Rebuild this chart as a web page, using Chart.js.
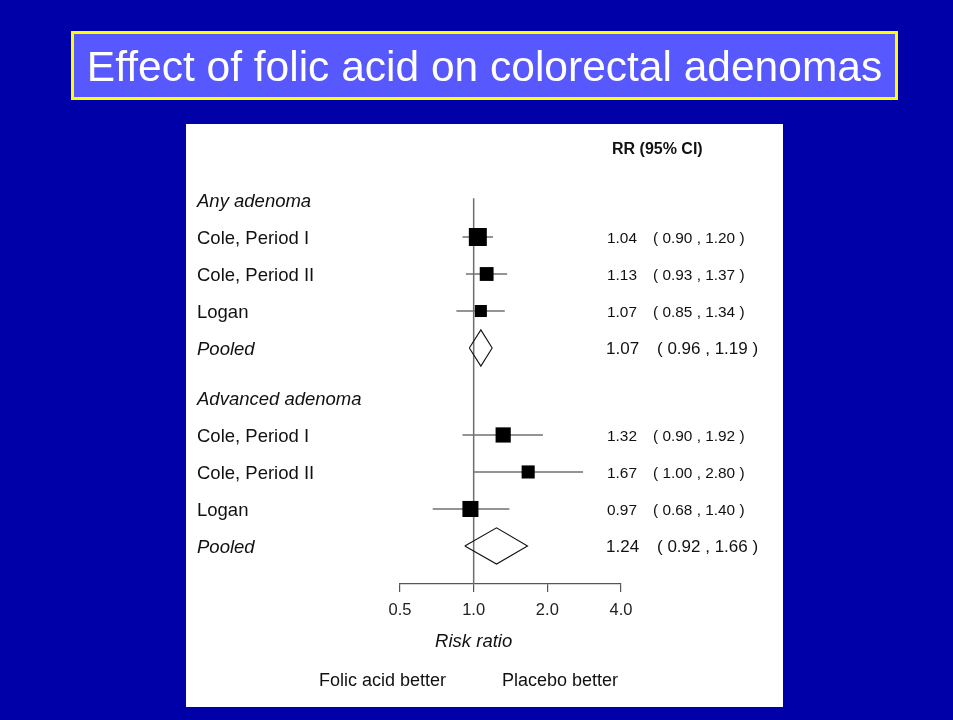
<!DOCTYPE html>
<html>
<head>
<meta charset="utf-8">
<script src="https://cdn.jsdelivr.net/npm/chart.js@4/dist/chart.umd.min.js"></script>
<style>
  html, body { margin: 0; padding: 0; background: #0000A8; }
  #wrap { width: 953px; height: 720px; position: relative; }
</style>
</head>
<body>
<div id="wrap"><canvas id="c" width="953" height="720"></canvas></div>
<script>
// ---------------- DATA ----------------
const chartTitle = "Effect of folic acid on colorectal adenomas";
const groups = ["Any adenoma", "Advanced adenoma"];
const studies = ["Cole, Period I", "Cole, Period II", "Logan"];
const pooledLabel = "Pooled";

// risk ratios and 95% CI per group (rows follow `studies`)
const anyRR   = [1.04, 1.13, 1.07];
const anyLo   = [0.90, 0.93, 0.85];
const anyHi   = [1.20, 1.37, 1.34];
const anyWeight = [49, 29, 22];          // relative study weight (%)
const anyPooled = [1.07, 0.96, 1.19];    // RR, lo, hi

const advRR   = [1.32, 1.67, 0.97];
const advLo   = [0.90, 1.00, 0.68];
const advHi   = [1.92, 2.80, 1.40];
const advWeight = [35, 26, 39];
const advPooled = [1.24, 0.92, 1.66];

const xTicks = [0.5, 1.0, 2.0, 4.0];
const columnHeader = "RR (95% CI)";
const xTitle = "Risk ratio";
const leftNote = "Folic acid better";
const rightNote = "Placebo better";

// ---------------- LAYOUT (code only) ----------------
const GROUP_STEP = 5.35;   // rows between group headers
const Y_TOP = -2.054, Y_BOTTOM = 10.378;
const FONT = '"Liberation Sans", Arial, Helvetica, sans-serif';
const TY = 1.5; // text baseline nudge

const groupData = [
  { rr: anyRR, lo: anyLo, hi: anyHi, w: anyWeight, pooled: anyPooled },
  { rr: advRR, lo: advLo, hi: advHi, w: advWeight, pooled: advPooled }
];

function fmt(v) { return v.toFixed(2); }

const datasets = [];
// reference line at RR = 1
datasets.push({
  data: [{ x: 1, y: -0.05 }, { x: 1, y: Y_BOTTOM }],
  showLine: true, borderColor: '#6e6e6e', borderWidth: 1.5,
  pointRadius: 0, order: 20, clip: false
});

const squarePts = [], squareRadii = [];
groupData.forEach((g, gi) => {
  const base = gi * GROUP_STEP;
  g.rr.forEach((rr, i) => {
    const row = base + 1 + i;
    datasets.push({
      data: [{ x: g.lo[i], y: row }, { x: g.hi[i], y: row }],
      showLine: true, borderColor: '#707070', borderWidth: 1.5,
      pointRadius: 0, order: 10, clip: false
    });
    squarePts.push({ x: rr, y: row });
    const side = 2.57 * Math.sqrt(g.w[i]);
    squareRadii.push(side / Math.SQRT2);
  });
  const pr = base + 4;
  const [est, lo, hi] = g.pooled;
  const h = 0.49;
  datasets.push({
    data: [{ x: lo, y: pr }, { x: est, y: pr - h }, { x: hi, y: pr }, { x: est, y: pr + h }, { x: lo, y: pr }],
    showLine: true, borderColor: '#111', borderWidth: 1.1, tension: 0,
    pointRadius: 0, order: 5, clip: false
  });
});
datasets.push({
  data: squarePts, pointStyle: 'rect', pointRadius: squareRadii,
  backgroundColor: '#000', borderColor: '#000', borderWidth: 0,
  order: 0, clip: false
});

const decor = {
  id: 'decor',
  beforeDraw(chart) {
    const ctx = chart.ctx;
    ctx.save();
    ctx.fillStyle = '#0000A8';
    ctx.fillRect(0, 0, chart.width, chart.height);
    // title box
    ctx.fillStyle = '#FFFF00';
    ctx.fillRect(71, 31, 827, 69);
    ctx.fillStyle = '#5858FF';
    ctx.fillRect(74, 34, 821, 63);
    // white panel
    ctx.fillStyle = '#FFFFFF';
    ctx.fillRect(186, 124, 597, 583);
    ctx.restore();
  },
  afterDraw(chart) {
    const ctx = chart.ctx;
    const ys = chart.scales.y;
    const xs = chart.scales.x;
    ctx.save();
    // title
    ctx.fillStyle = '#FFFFFF';
    ctx.font = '42.5px ' + FONT;
    ctx.textAlign = 'center';
    ctx.textBaseline = 'middle';
    ctx.fillText(chartTitle, 484.5, 69);

    ctx.fillStyle = '#111';
    ctx.textAlign = 'left';
    // column header
    ctx.font = 'bold 16px ' + FONT;
    ctx.fillText(columnHeader, 612, 149.5);

    groupData.forEach((g, gi) => {
      const base = gi * GROUP_STEP;
      ctx.font = 'italic 18.5px ' + FONT;
      ctx.fillText(groups[gi], 197, ys.getPixelForValue(base) + TY);
      studies.forEach((s, i) => {
        const y = ys.getPixelForValue(base + 1 + i) + TY;
        ctx.font = '18.5px ' + FONT;
        ctx.fillText(s, 197, y);
        ctx.font = '15.4px ' + FONT;
        ctx.fillText(fmt(g.rr[i]), 607, y);
        ctx.fillText('( ' + fmt(g.lo[i]) + ' , ' + fmt(g.hi[i]) + ' )', 653, y);
      });
      const py = ys.getPixelForValue(base + 4) + TY;
      ctx.font = 'italic 18.5px ' + FONT;
      ctx.fillText(pooledLabel, 197, py);
      ctx.font = '17px ' + FONT;
      ctx.fillText(fmt(g.pooled[0]), 606, py);
      ctx.fillText('( ' + fmt(g.pooled[1]) + ' , ' + fmt(g.pooled[2]) + ' )', 657, py);
    });

    // axis title and notes
    ctx.textAlign = 'center';
    ctx.font = 'italic 18.5px ' + FONT;
    ctx.fillText(xTitle, xs.getPixelForValue(1), 642);
    ctx.font = '18px ' + FONT;
    ctx.fillText(leftNote, 382.5, 681);
    ctx.fillText(rightNote, 560, 681);
    ctx.restore();
  }
};

new Chart(document.getElementById('c'), {
  type: 'scatter',
  data: { datasets },
  plugins: [decor],
  options: {
    responsive: false,
    animation: false,
    events: [],
    layout: { padding: { left: 400, right: 332, top: 124, bottom: 0 } },
    plugins: { legend: { display: false }, tooltip: { enabled: false }, title: { display: false } },
    scales: {
      x: {
        type: 'logarithmic',
        min: 0.5, max: 4,
        afterBuildTicks: (s) => { s.ticks = xTicks.map(v => ({ value: v })); },
        afterFit: (s) => { s.height = 136; },
        ticks: {
          autoSkip: false, maxRotation: 0, padding: 9,
          color: '#222',
          font: { family: FONT, size: 16.5 },
          callback: (v) => Number(v).toFixed(1)
        },
        grid: { display: true, drawOnChartArea: false, drawTicks: true, tickLength: 8, color: '#555', lineWidth: 1.2 },
        border: { display: true, color: '#555', width: 1.2 }
      },
      y: {
        type: 'linear', display: false, reverse: true,
        min: Y_TOP, max: Y_BOTTOM
      }
    }
  }
});
</script>
</body>
</html>
